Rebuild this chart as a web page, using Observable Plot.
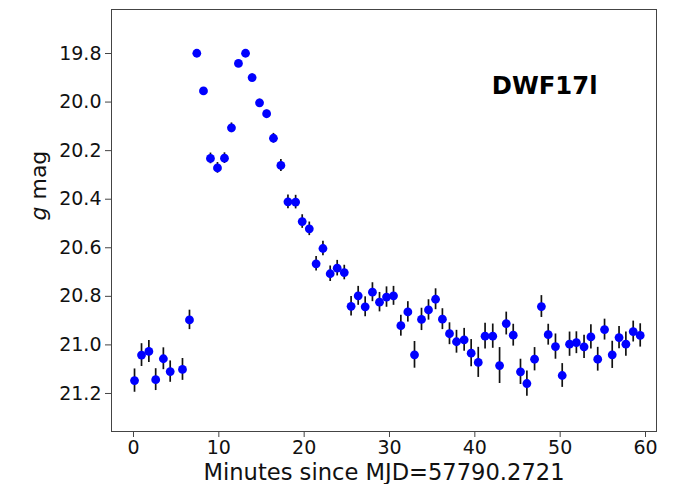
<!DOCTYPE html>
<html>
<head>
<meta charset="utf-8">
<script src="https://cdn.jsdelivr.net/npm/d3@7"></script>
<script src="https://cdn.jsdelivr.net/npm/@observablehq/plot@0.6"></script>
<style>
  html, body { margin: 0; padding: 0; background: #fff; }
  #chart svg { display: block; }
</style>
</head>
<body>
<div id="chart"></div>
<script>
// Minutes since MJD=57790.2721
const minutes = [0.12, 0.94, 1.8, 2.6, 3.5, 4.3, 5.74, 6.56, 7.42, 8.2,
  9.02, 9.84, 10.66, 11.48, 12.3, 13.13, 13.9, 14.77, 15.6, 16.4,
  17.27, 18.1, 19.0, 19.77, 20.6, 21.4, 22.2, 23.05, 23.87, 24.7,
  25.5, 26.33, 27.15, 28.0, 28.83, 29.65, 30.47, 31.33, 32.15, 32.93,
  33.75, 34.57, 35.4, 36.2, 37.03, 37.85, 38.75, 39.57, 40.4, 41.2,
  42.1, 42.9, 43.68, 44.5, 45.35, 46.1, 47.0, 47.8, 48.6, 49.45,
  50.24, 51.1, 51.9, 52.8, 53.6, 54.4, 55.2, 56.1, 56.9, 57.7,
  58.56, 59.38];
// g magnitudes
const gmag = [21.147, 21.042, 21.027, 21.143, 21.057, 21.110, 21.101, 20.897, 19.799, 19.954,
  20.232, 20.271, 20.231, 20.106, 19.841, 19.799, 19.899, 20.003, 20.048, 20.149,
  20.261, 20.411, 20.412, 20.492, 20.522, 20.666, 20.603, 20.707, 20.684, 20.702,
  20.841, 20.798, 20.843, 20.783, 20.824, 20.803, 20.798, 20.921, 20.864, 21.041,
  20.895, 20.856, 20.812, 20.894, 20.954, 20.987, 20.979, 21.034, 21.072, 20.964,
  20.964, 21.085, 20.912, 20.960, 21.111, 21.159, 21.059, 20.842, 20.958, 21.007,
  21.126, 20.997, 20.991, 21.008, 20.967, 21.059, 20.937, 21.041, 20.970, 20.997,
  20.945, 20.961];
// 1-sigma uncertainties (mag)
const gerr = [0.048, 0.047, 0.045, 0.045, 0.045, 0.044, 0.045, 0.040, 0.010, 0.012,
  0.022, 0.022, 0.022, 0.020, 0.012, 0.012, 0.015, 0.015, 0.015, 0.020,
  0.025, 0.028, 0.028, 0.028, 0.028, 0.030, 0.030, 0.032, 0.032, 0.030,
  0.040, 0.039, 0.041, 0.039, 0.040, 0.042, 0.039, 0.043, 0.042, 0.055,
  0.046, 0.042, 0.043, 0.043, 0.045, 0.047, 0.047, 0.056, 0.062, 0.053,
  0.050, 0.074, 0.047, 0.045, 0.052, 0.052, 0.048, 0.045, 0.043, 0.052,
  0.049, 0.050, 0.045, 0.048, 0.050, 0.049, 0.043, 0.056, 0.046, 0.050,
  0.043, 0.048];

const xTicks = [0, 10, 20, 30, 40, 50, 60];
const yTicks = [19.8, 20.0, 20.2, 20.4, 20.6, 20.8, 21.0, 21.2];
const xLabel = "Minutes since MJD=57790.2721";
const yLabel = "g mag";
const objectName = "DWF17l";

const data = minutes.map((t, i) => ({t, m: gmag[i], e: gerr[i]}));

const FONT = "DejaVu Sans, sans-serif";

const chart = Plot.plot({
  width: 676,
  height: 484,
  marginLeft: 111,
  marginRight: 20,
  marginTop: 9,
  marginBottom: 53,
  style: {fontFamily: FONT, background: "#fff", color: "#111"},
  x: {domain: [-2.578, 61.289], ticks: xTicks},
  y: {domain: [19.6188, 21.3566], reverse: true, ticks: yTicks},
  marks: [
    Plot.ruleX(data, {x: "t", y1: d => d.m - d.e, y2: d => d.m + d.e, stroke: "#111", strokeWidth: 1.7}),
    Plot.dot(data, {x: "t", y: "m", r: 4.4, fill: "#0000ff", stroke: "none"}),
    Plot.frame({stroke: "#444", strokeWidth: 1}),
    Plot.axisX(xTicks, {tickSize: 6, tickPadding: 3, fontSize: 19, label: null, stroke: "#444", fill: "#111", tickFormat: d3.format("d")}),
    Plot.axisY(yTicks, {tickSize: 6, tickPadding: 4, fontSize: 19, label: null, stroke: "#444", fill: "#111", tickFormat: d3.format(".1f")}),
    Plot.text([xLabel], {text: d => d, frameAnchor: "bottom", dy: 41, lineAnchor: "middle", fontSize: 22.6, fill: "#111"}),
    Plot.text([yLabel], {text: d => d, frameAnchor: "left", dx: -73, rotate: -90, lineAnchor: "middle", fontSize: 22, fill: "#111", className: "ylab"}),
    Plot.text([objectName], {text: d => d, frameAnchor: "top-right", dx: -59, dy: 77, textAnchor: "end", lineAnchor: "middle", fontSize: 24.3, fontWeight: "bold", fill: "#000"})
  ]
});

// italic "g" as in mathtext $g$
d3.select(chart).selectAll("g.ylab text").each(function() {
  const t = d3.select(this);
  t.text(null);
  t.append("tspan").attr("font-style", "italic").text("g");
  t.append("tspan").text(" mag");
});

document.getElementById("chart").appendChild(chart);
</script>
</body>
</html>
